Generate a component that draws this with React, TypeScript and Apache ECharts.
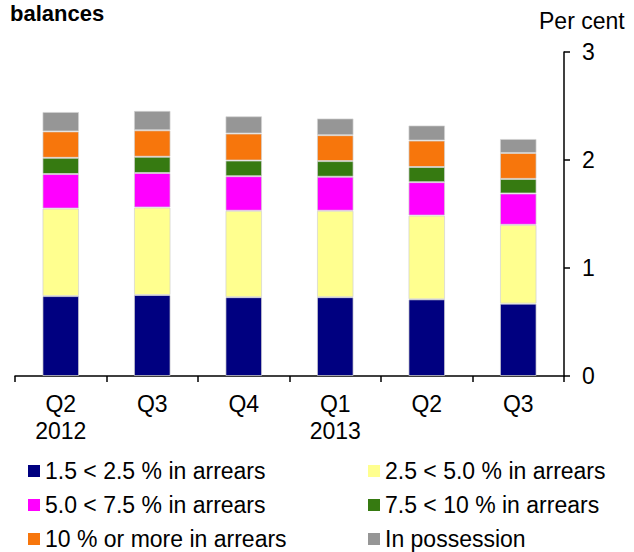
import React, { useEffect, useRef } from "react";
import * as echarts from "echarts";

const categories = ["Q2\n2012", "Q3", "Q4", "Q1\n2013", "Q2", "Q3"];
const seriesNames = [
  "1.5 < 2.5 % in arrears",
  "2.5 < 5.0 % in arrears",
  "5.0 < 7.5 % in arrears",
  "7.5 < 10 % in arrears",
  "10 % or more in arrears",
  "In possession",
];
const arrears15to25 = [0.74, 0.75, 0.73, 0.73, 0.71, 0.67];
const arrears25to50 = [0.81, 0.81, 0.8, 0.8, 0.775, 0.73];
const arrears50to75 = [0.32, 0.32, 0.32, 0.315, 0.31, 0.29];
const arrears75to10 = [0.15, 0.15, 0.145, 0.145, 0.14, 0.135];
const arrears10plus = [0.245, 0.245, 0.25, 0.24, 0.245, 0.24];
const inPossession = [0.18, 0.18, 0.16, 0.155, 0.14, 0.13];
const seriesColors = ["#000080", "#FFFF8F", "#FF00FF", "#367A11", "#F7760C", "#969696"];
const yTicks = { min: 0, max: 3, interval: 1 };

const FONT = "'Liberation Sans', Arial, sans-serif";

export default function App() {
  const ref = useRef<HTMLDivElement>(null);
  useEffect(() => {
    if (!ref.current) return;
    const chart = echarts.init(ref.current, null, { renderer: "svg" });
    const values = [arrears15to25, arrears25to50, arrears50to75, arrears75to10, arrears10plus, inPossession];
    const series = values.map((v, i) => ({
      name: seriesNames[i],
      type: "bar",
      stack: "total",
      barWidth: "40%",
      data: v,
      itemStyle: {
        color: seriesColors[i],
        borderColor: "rgba(210,210,210,0.7)",
        borderWidth: 1,
      },
    }));
    const legendCommon = {
      orient: "vertical",
      icon: "rect",
      itemWidth: 12,
      itemHeight: 12,
      itemGap: 10,
      top: 459,
      itemStyle: { borderWidth: 0 },
      textStyle: { fontFamily: FONT, fontSize: 23, color: "#000", lineHeight: 24 },
      padding: 0,
    };
    chart.setOption({
      animation: false,
      textStyle: { fontFamily: FONT },
      grid: { left: 15, right: 70, top: 52, bottom: 176, containLabel: false },
      legend: [
        { ...legendCommon, left: 28, data: [seriesNames[0], seriesNames[2], seriesNames[4]] },
        { ...legendCommon, left: 368, data: [seriesNames[1], seriesNames[3], seriesNames[5]] },
      ],
      graphic: [
        {
          type: "text",
          left: 10,
          top: 2,
          style: { text: "balances", font: `bold 22px ${FONT}`, fill: "#000" },
        },
        {
          type: "text",
          left: 539,
          top: 9,
          style: { text: "Per cent", font: `23px ${FONT}`, fill: "#000" },
        },
      ],
      xAxis: {
        type: "category",
        data: categories,
        axisLine: { lineStyle: { color: "#000", width: 1.5 } },
        axisTick: { show: true, length: 6, lineStyle: { color: "#000", width: 1.5 } },
        axisLabel: {
          interval: 0,
          color: "#000",
          fontFamily: FONT,
          fontSize: 23,
          lineHeight: 27,
          margin: 14,
        },
      },
      yAxis: {
        type: "value",
        position: "right",
        min: yTicks.min,
        max: yTicks.max,
        interval: yTicks.interval,
        axisLine: { show: true, lineStyle: { color: "#000", width: 1.5 } },
        axisTick: { show: true, length: 6, inside: false, lineStyle: { color: "#000", width: 1.5 } },
        splitLine: { show: false },
        axisLabel: { color: "#000", fontFamily: FONT, fontSize: 23, margin: 18 },
      },
      series,
    });
    return () => chart.dispose();
  }, []);
  return (
    <div
      ref={ref}
      style={{ position: "absolute", left: 0, top: 0, width: 634, height: 552, background: "#fff" }}
    />
  );
}
